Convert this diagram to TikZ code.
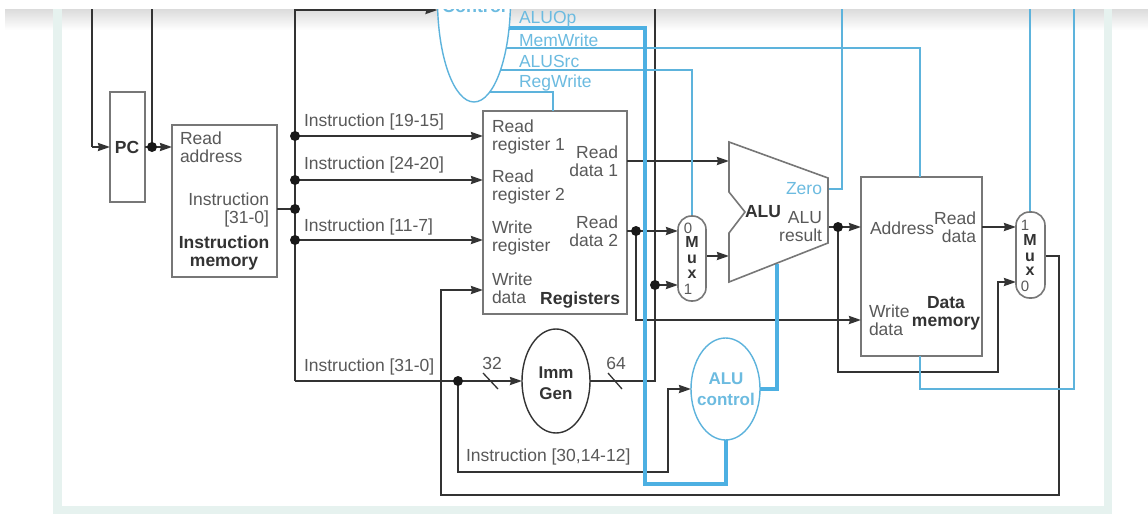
\documentclass[tikz,border=0pt]{standalone}
\usepackage{fontspec}
\setmainfont{Liberation Sans}
\usetikzlibrary{arrows.meta,shapes.geometric,fadings}
\definecolor{wire}{HTML}{333333}
\definecolor{boxline}{HTML}{777777}
\definecolor{txt}{HTML}{595959}
\definecolor{boldtxt}{HTML}{333333}
\definecolor{ctl}{HTML}{5DB3DC}
\definecolor{ctlthick}{HTML}{4DB0E2}
\definecolor{ctltxt}{HTML}{6CBBE0}
\definecolor{strip}{HTML}{E6F2EF}
\tikzset{
  x=1pt,y=-1pt,
  lbl/.style={inner sep=0,outer sep=0,text=txt,font=\fontsize{17.5}{18}\selectfont},
  lbll/.style={lbl,anchor=west,align=left},
  lblr/.style={lbl,anchor=east,align=right},
  blbl/.style={lbl,text=boldtxt,align=center,font=\fontsize{17.5}{18}\bfseries\selectfont},
  clbl/.style={lbl,anchor=west,text=ctltxt},
  muxl/.style={lbl,font=\fontsize{15}{15}\selectfont},
  muxb/.style={lbl,text=boldtxt,font=\fontsize{16}{16}\bfseries\selectfont},
  unit/.style={draw=boxline,line width=1.6pt,inner sep=0,outer sep=0,fill=white},
  muxbox/.style={draw=boxline,line width=1.6pt,inner sep=0,outer sep=0,fill=white,rounded corners=13.5pt},
  oval/.style={ellipse,inner sep=0,outer sep=0,line width=1.4pt,fill=white},
  bus/.style={draw=wire,line width=2pt},
  arr/.style={bus,-{Stealth[inset=1pt,length=12pt,width=8pt]}},
  sig/.style={draw=ctl,line width=2pt},
  thicksig/.style={draw=ctlthick,line width=4pt},
  dot/.style={circle,fill=black!90,inner sep=0,outer sep=0,minimum size=10pt},
}
\begin{document}
\begin{tikzpicture}
\useasboundingbox (0,0) rectangle (1148,514);
\fill[white] (0,0) rectangle (1148,514);
% page furniture
\shade[top color=black!14,bottom color=white] (5,9) rectangle (1148,30);
\fill[strip] (53,9) rectangle (62,514);
\fill[strip] (1104,9) rectangle (1112,514);
\fill[strip] (53,506) rectangle (1112,514);
\fill[white] (62,30) rectangle (1104,506);

% free ends at the top of the crop
\coordinate (t1) at (92,0);
\coordinate (t2) at (152,0);
\coordinate (t3) at (295,0);
\coordinate (t4) at (655,0);
\coordinate (t5) at (842,0);
\coordinate (t6) at (1030,0);
\coordinate (t7) at (1074,0);

% junctions
\coordinate (jpc) at (152,147);
\coordinate (jim) at (295,209);
\coordinate (j1) at (295,136);
\coordinate (j2) at (295,180);
\coordinate (j3) at (295,240);
\coordinate (jb) at (295,381);
\coordinate (j4) at (458,381);
\coordinate (jrd) at (636,231);
\coordinate (jimm) at (655,285);
\coordinate (jalu) at (838,227);

% blue control (under the units)
\node[oval,draw=ctl,minimum width=73pt,minimum height=204pt] (control) at (474,0) {};
\node[lbl,text=ctltxt,font=\fontsize{18}{18}\bfseries\selectfont] (controlt) at (474,6) {Control};

% units
\node[unit,minimum width=35pt,minimum height=110pt] (pc) at (127.5,147) {};
\node[unit,minimum width=105pt,minimum height=152pt] (imem) at (224.5,201) {};
\node[unit,minimum width=144pt,minimum height=203pt] (regs) at (555,212.5) {};
\node[unit,minimum width=121pt,minimum height=179pt] (dmem) at (921.5,266.5) {};
\node[oval,draw=wire,minimum width=68pt,minimum height=104pt] (imm) at (556,381) {};
\node[oval,draw=ctl,minimum width=69pt,minimum height=102pt] (aluc) at (725.5,389) {};

% black wires
\draw[bus] (t1) -- (92,147) coordinate (pcin);
\draw[arr] (pcin) -- (pc.west |- pcin);
\draw[bus] (t2) -- (jpc);
\draw[bus] (pc.east |- jpc) -- (jpc);
\draw[arr] (jpc) -- (imem.west |- jpc);
\draw[bus] (imem.east |- jim) -- (jim);
\draw[bus] (t3) -- (jb);
\draw[arr] (t3 |- 0,10) -- (control.west |- 0,10);
\draw[arr] (j1) -- (regs.west |- j1);
\draw[arr] (j2) -- (regs.west |- j2);
\draw[arr] (j3) -- (regs.west |- j3);
\draw[arr] (jb) -- (imm.west);
\draw[bus] (imm.east) -- (655,381) -- (t4);
\draw[arr] (j4) -- (458,472) -- (668,472) -- (668,389) -- (aluc.west);
\draw[arr] (jimm) -- (678,285);
\draw[arr] (regs.east |- 0,161) -- (729,161);
\draw[bus] (regs.east |- jrd) -- (jrd);
\draw[arr] (jrd) -- (678,231);
\draw[arr] (jrd) -- (636,320) -- (dmem.west |- 0,320);
\draw[arr] (828,227) -- (dmem.west |- jalu);
\draw[arr] (jalu) -- (838,372) -- (998,372) -- (998,282) -- (1016,282);
\draw[arr] (dmem.east |- jalu) -- (1016,227);
\draw[bus] (1045,256) -- (1059,256) -- (1059,495) -- (441,495) -- (441,290) -- (470,290);
\draw[arr] (470,290) -- (regs.west |- 0,290);
\draw[arr] (706,256) -- (729,256);

% control signals
\draw[sig] (506,48) -- (920,48) -- (dmem.north -| 920,0);
\draw[sig] (500.5,70) -- (692,70) -- (692,216);
\draw[sig] (490,92) -- (553,92) -- (regs.north -| 553,0);
\draw[thicksig] (509,28) -- (645,28) -- (645,484) -- (726,484) -- (aluc.south -| 726,0);
\draw[thicksig] (aluc.east) -- (777,389) -- (777,264);
\draw[sig] (828,189) -- (842,189) -- (t5);
\draw[sig] (dmem.south -| 920,0) -- (920,389) -- (1074,389) -- (t7);
\draw[sig] (t6) -- (1030,212);

% muxes and ALU
\node[muxbox,minimum width=28pt,minimum height=85pt] (mux1) at (692,258.5) {};
\node[muxbox,minimum width=29pt,minimum height=86pt] (mux2) at (1030.5,255) {};
\draw[draw=boxline,line width=1.6pt,fill=white,line join=miter] (729,142) -- (828,178) -- (828,243) -- (729,282) -- (729,233) -- (745,212) -- (729,192) -- cycle;

% dots
\foreach \j in {jpc,jim,j1,j2,j3,j4,jrd,jimm,jalu} \node[dot] (d\j) at (\j) {};

% bus-width ticks
\draw[wire,line width=1.3pt] (483,373) -- (498,389);
\draw[wire,line width=1.3pt] (608,373) -- (622,389);

% labels
\node[blbl] (pct) at (127,147) {PC};
\node[lbll] (ra) at (180,147) {Read\\address};
\node[lblr] (imo) at (269,210) {Instruction\\{[31-0]}};
\node[blbl] (imt) at (224,253) {Instruction\\memory};
\node[lbll] (i1) at (304,122) {Instruction [19-15]};
\node[lbll] (i2) at (304,165) {Instruction [24-20]};
\node[lbll] (i3) at (304,227) {Instruction [11-7]};
\node[lbll] (i4) at (304,367) {Instruction [31-0]};
\node[lbll] (i5) at (466,457) {Instruction [30,14-12]};
\node[lbl] (n32) at (492,363) {32};
\node[lbl] (n64) at (616,363) {64};
\node[lbl,text=boldtxt,align=center,font=\fontsize{17}{21}\bfseries\selectfont] (immt) at (556,383) {Imm\\Gen};
\node[lbl,text=ctltxt,align=center,font=\fontsize{17}{21}\bfseries\selectfont] (aluct) at (726,389) {ALU\\control};
\node[lbll] (r1) at (492,137) {Read\\register 1};
\node[lbll] (r2) at (492,187) {Read\\register 2};
\node[lbll] (r3) at (492,238) {Write\\register};
\node[lbll] (r4) at (492,288) {Write\\data};
\node[lbl,anchor=east,text=boldtxt,font=\fontsize{17.5}{18}\bfseries\selectfont] (rt) at (620,300) {Registers};
\node[lblr] (rd1) at (618,161) {Read\\data 1};
\node[lblr] (rd2) at (618,231) {Read\\data 2};
\node[clbl] (s1) at (519,19) {ALUOp};
\node[clbl] (s2) at (519,40) {MemWrite};
\node[clbl] (s3) at (519,61) {ALUSrc};
\node[clbl] (s4) at (519,83) {RegWrite};
\node[lbl,anchor=east,text=ctltxt] (zero) at (822,189) {Zero};
\node[blbl] (alut) at (763,212) {ALU};
\node[lblr] (alur) at (822,227) {ALU\\result};
\node[lbll] (da) at (870,228) {Address};
\node[lblr] (dr) at (976,227) {Read\\data};
\node[lbll] (dw) at (869,320) {Write\\data};
\node[blbl] (dt) at (946,313) {Data\\memory};
\node[muxl] (m10) at (688,228) {0};
\node[muxb] (m1m) at (692,242) {M};
\node[muxb] (m1u) at (692,259) {u};
\node[muxb] (m1x) at (692,274) {x};
\node[muxl] (m11) at (688,289) {1};
\node[muxl] (m21) at (1025,225) {1};
\node[muxb] (m2m) at (1030,240) {M};
\node[muxb] (m2u) at (1030,257) {u};
\node[muxb] (m2x) at (1030,271) {x};
\node[muxl] (m20) at (1025,286) {0};

% the screen crop hides everything above this edge
\fill[white] (0,0) rectangle (1148,9);
\end{tikzpicture}
\end{document}
